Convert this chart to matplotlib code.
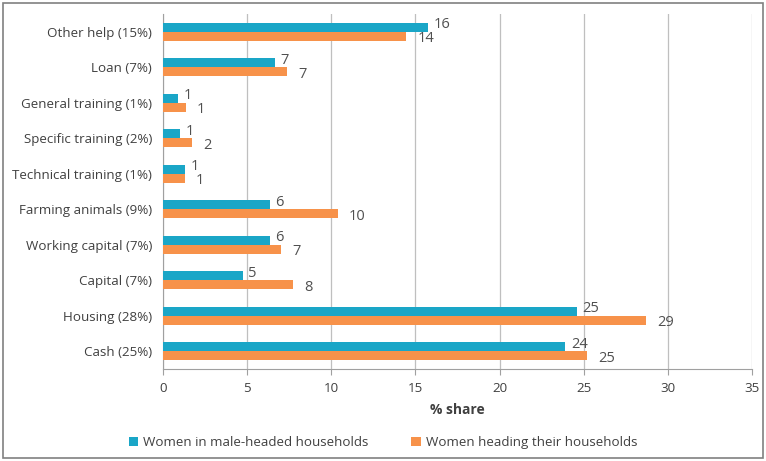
import matplotlib
matplotlib.use("Agg")
import matplotlib.pyplot as plt
import numpy as np
from matplotlib.patches import Rectangle

categories = ["Other help (15%)", "Loan (7%)", "General training (1%)", "Specific training (2%)",
              "Technical training (1%)", "Farming animals (9%)", "Working capital (7%)",
              "Capital (7%)", "Housing (28%)", "Cash (25%)"]
male_headed = [15.75, 6.65, 0.9, 1.0, 1.3, 6.36, 6.36, 4.75, 24.6, 23.9]
female_heading = [14.45, 7.37, 1.37, 1.72, 1.3, 10.4, 7.0, 7.72, 28.7, 25.2]
series_names = ["Women in male-headed households", "Women heading their households"]
xticks = [0, 5, 10, 15, 20, 25, 30, 35]

teal = "#1AA6C7"
orange = "#F7924A"
txt = "#404040"
plt.rcParams['font.family'] = ['Open Sans', 'DejaVu Sans']

fig = plt.figure(figsize=(7.66, 4.61), dpi=100)
ax = fig.add_axes([163/766, 1-369/461, (752-163)/766, 355/461])

y = np.arange(len(categories))
h = 0.25
ax.barh(y - h/2, male_headed, height=h, color=teal, label=series_names[0], zorder=3)
ax.barh(y + h/2, female_heading, height=h, color=orange, label=series_names[1], zorder=3)

for yi, v in zip(y, male_headed):
    ax.annotate(f"{round(v)}", (v, yi - h/2), xytext=(4, 2), textcoords="offset points",
                ha="left", va="center", fontsize=10.5, color="#505050")
for yi, v in zip(y, female_heading):
    ax.annotate(f"{round(v)}", (v, yi + h/2), xytext=(8, -2), textcoords="offset points",
                ha="left", va="center", fontsize=10.5, color="#505050")

ax.set_ylim(len(categories) - 0.5, -0.5)
ax.set_xlim(0, 35)
ax.set_xticks(xticks)
ax.set_yticks(y)
ax.set_yticklabels(categories)
ax.tick_params(axis='y', length=0, pad=8, labelsize=9.6, labelcolor=txt)
ax.tick_params(axis='x', length=4, color="#A0A0A0", labelsize=9.6, labelcolor=txt, pad=5)
ax.grid(axis='x', color="#BFBFBF", linewidth=0.9, zorder=0)
for s in ["top", "right"]:
    ax.spines[s].set_visible(False)
ax.spines["left"].set_color("#A0A0A0")
ax.spines["bottom"].set_color("#A0A0A0")
ax.set_xlabel("% share", fontsize=10, fontweight="bold", color=txt, labelpad=6)

fig.legend(loc="lower center", bbox_to_anchor=(0.5, 0.0), ncol=2, frameon=False,
           fontsize=9.6, handlelength=0.7, handleheight=0.7, handletextpad=0.4,
           columnspacing=3.2, labelcolor=txt)

fig.patches.append(Rectangle((0.004, 0.006), 0.992, 0.988, transform=fig.transFigure,
                             fill=False, edgecolor="#808080", linewidth=1.2))
fig.savefig("out.png", dpi=100)
